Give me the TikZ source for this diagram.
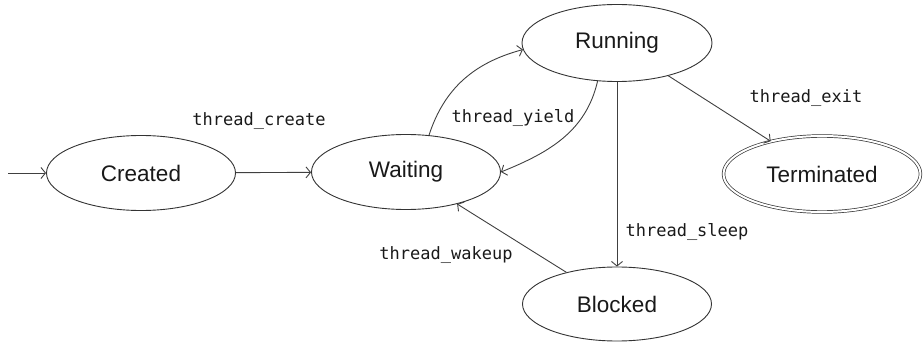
\documentclass[tikz,border=0pt]{standalone}
\usepackage{fontspec}
\setmainfont{Liberation Sans}
\newfontfamily\labelfont{DejaVu Sans Mono}
\usetikzlibrary{shapes.geometric,arrows.meta}
\begin{document}
\begin{tikzpicture}[x=1pt,y=-1pt,
  state/.style={draw=black!80, line width=0.9pt, ellipse, inner sep=0pt,
    minimum width=189pt, minimum height=75pt, font=\fontsize{22.5}{26}\selectfont, text=black!90},
  final/.style={state, double, double distance=2pt, line width=0.7pt,
    minimum width=197pt, minimum height=76pt},
  trans/.style={draw=black!75, line width=0.9pt, -{Straight Barb[length=4.5pt,width=11pt,line width=0.9pt]}},
  lab/.style={font=\labelfont\fontsize{17}{20}\selectfont, text=black!90, inner sep=0pt}]
\useasboundingbox (0,0) rectangle (924,342);
\node[state] (created) at (141,173) {Created};
\node[state] (waiting) at (406,172) {Waiting};
\node[state, minimum width=190pt, minimum height=77pt] (running) at (617,43) {Running};
\node[final] (terminated) at (822,174) {Terminated};
\node[state, minimum height=74pt] (blocked) at (617,304) {Blocked};
\coordinate (start) at (8,173);
\draw[trans] (start) -- (created);
\draw[trans] (created) -- (waiting);
\draw[trans] (waiting.58) to[out=72,in=195] (running.184);
\draw[trans] (running.243) to[out=257,in=22] (waiting.east);
\draw[trans] (running) -- (blocked);
\draw[trans] (running) -- (terminated);
\draw[trans] (blocked) -- (waiting);
\node[lab] (l1) at (259,121) {thread\_create};
\node[lab] (l2) at (513,118) {thread\_yield};
\node[lab] (l3) at (806,98) {thread\_exit};
\node[lab] (l4) at (687,232) {thread\_sleep};
\node[lab] (l5) at (446,255) {thread\_wakeup};
\end{tikzpicture}
\end{document}
